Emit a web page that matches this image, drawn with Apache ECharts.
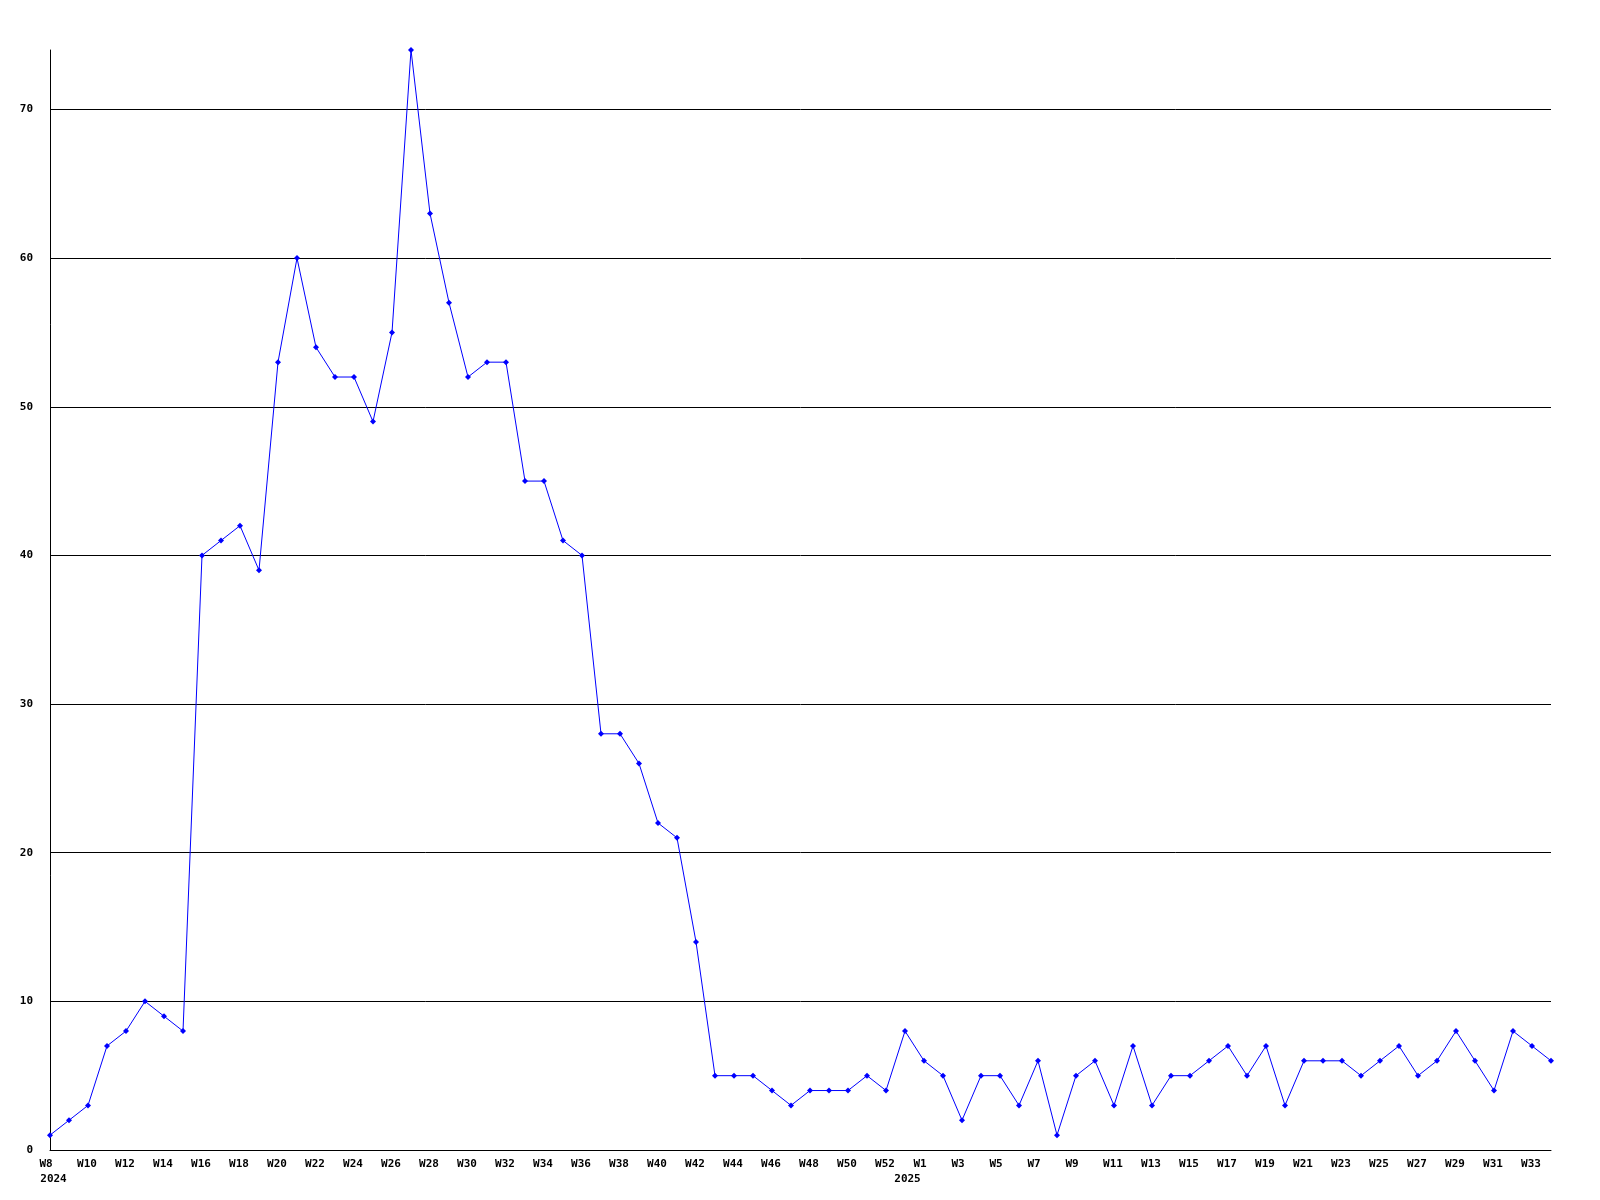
<!DOCTYPE html>
<html>
<head>
<meta charset="utf-8">
<script src="https://cdn.jsdelivr.net/npm/echarts@6/dist/echarts.min.js"></script>
<style>
html,body{margin:0;padding:0;background:#fff;}
#c{width:1600px;height:1200px;}
</style>
</head>
<body>
<div id="c"></div>
<script>
// Week labels: 2024 W8..W53, then 2025 W1..W34
const weeks2024 = ['W8','W9','W10','W11','W12','W13','W14','W15','W16','W17','W18','W19','W20','W21','W22','W23','W24','W25','W26','W27','W28','W29','W30','W31','W32','W33','W34','W35','W36','W37','W38','W39','W40','W41','W42','W43','W44','W45','W46','W47','W48','W49','W50','W51','W52','W53'];
const weeks2025 = ['W1','W2','W3','W4','W5','W6','W7','W8','W9','W10','W11','W12','W13','W14','W15','W16','W17','W18','W19','W20','W21','W22','W23','W24','W25','W26','W27','W28','W29','W30','W31','W32','W33','W34'];
const years = ['2024','2025'];
const values2024 = [1,2,3,7,8,10,9,8,40,41,42,39,53,60,54,52,52,49,55,74,63,57,52,53,53,45,45,41,40,28,28,26,22,21,14,5,5,5,4,3,4,4,4,5,4,8];
const values2025 = [6,5,2,5,5,3,6,1,5,6,3,7,3,5,5,6,7,5,7,3,6,6,6,5,6,7,5,6,8,6,4,8,7,6];
const yTicks = [0,10,20,30,40,50,60,70];

const categories = weeks2024.concat(weeks2025);
const values = values2024.concat(values2025);
const yearStart2025 = weeks2024.length;

const font = '"DejaVu Sans Mono", monospace';
const base = {fontFamily: font, fontWeight: 'bold', fontSize: 11, color: '#000'};
const chart = echarts.init(document.getElementById('c'));
chart.setOption({
  animation: false,
  backgroundColor: '#ffffff',
  grid: {left: 50, right: 49, top: 50, bottom: 50, containLabel: false},
  xAxis: {
    type: 'category',
    data: categories,
    boundaryGap: false,
    axisLine: {show: true, lineStyle: {color: '#000', width: 1}},
    axisTick: {show: false},
    splitLine: {show: false},
    axisLabel: {
      interval: 1,
      margin: 7,
      color: '#000',
      fontFamily: font,
      fontWeight: 'bold',
      fontSize: 11,
      lineHeight: 15,
      formatter: function (v, i) {
        const w = '{' + (v.length === 2 ? 'w2' : 'w3') + '|' + v + '}';
        if (i === 0) return w + '\n{a|' + years[0] + '}';
        if (i === yearStart2025) return w + '\n{b|' + years[1] + '}';
        return w;
      },
      rich: {
        w2: Object.assign({padding: [0, 8, 0, 0]}, base),
        w3: Object.assign({padding: [0, 2, 0, 0]}, base),
        a: Object.assign({padding: [0, 0, 0, 7]}, base),
        b: Object.assign({padding: [0, 33, 0, 0]}, base)
      }
    }
  },
  yAxis: {
    type: 'value',
    min: yTicks[0],
    max: 74,
    interval: 10,
    axisLine: {show: true, lineStyle: {color: '#000', width: 1}},
    axisTick: {show: false},
    splitLine: {show: true, showMaxLine: false, lineStyle: {color: '#000', width: 1}},
    axisLabel: {
      showMaxLabel: false,
      margin: 17,
      color: '#000',
      fontFamily: font,
      fontWeight: 'bold',
      fontSize: 11
    }
  },
  series: [{
    type: 'line',
    data: values,
    symbol: 'diamond',
    symbolSize: 6,
    showAllSymbol: true,
    clip: false,
    lineStyle: {color: '#0000ff', width: 1},
    itemStyle: {color: '#0000ff'}
  }]
});
</script>
</body>
</html>
